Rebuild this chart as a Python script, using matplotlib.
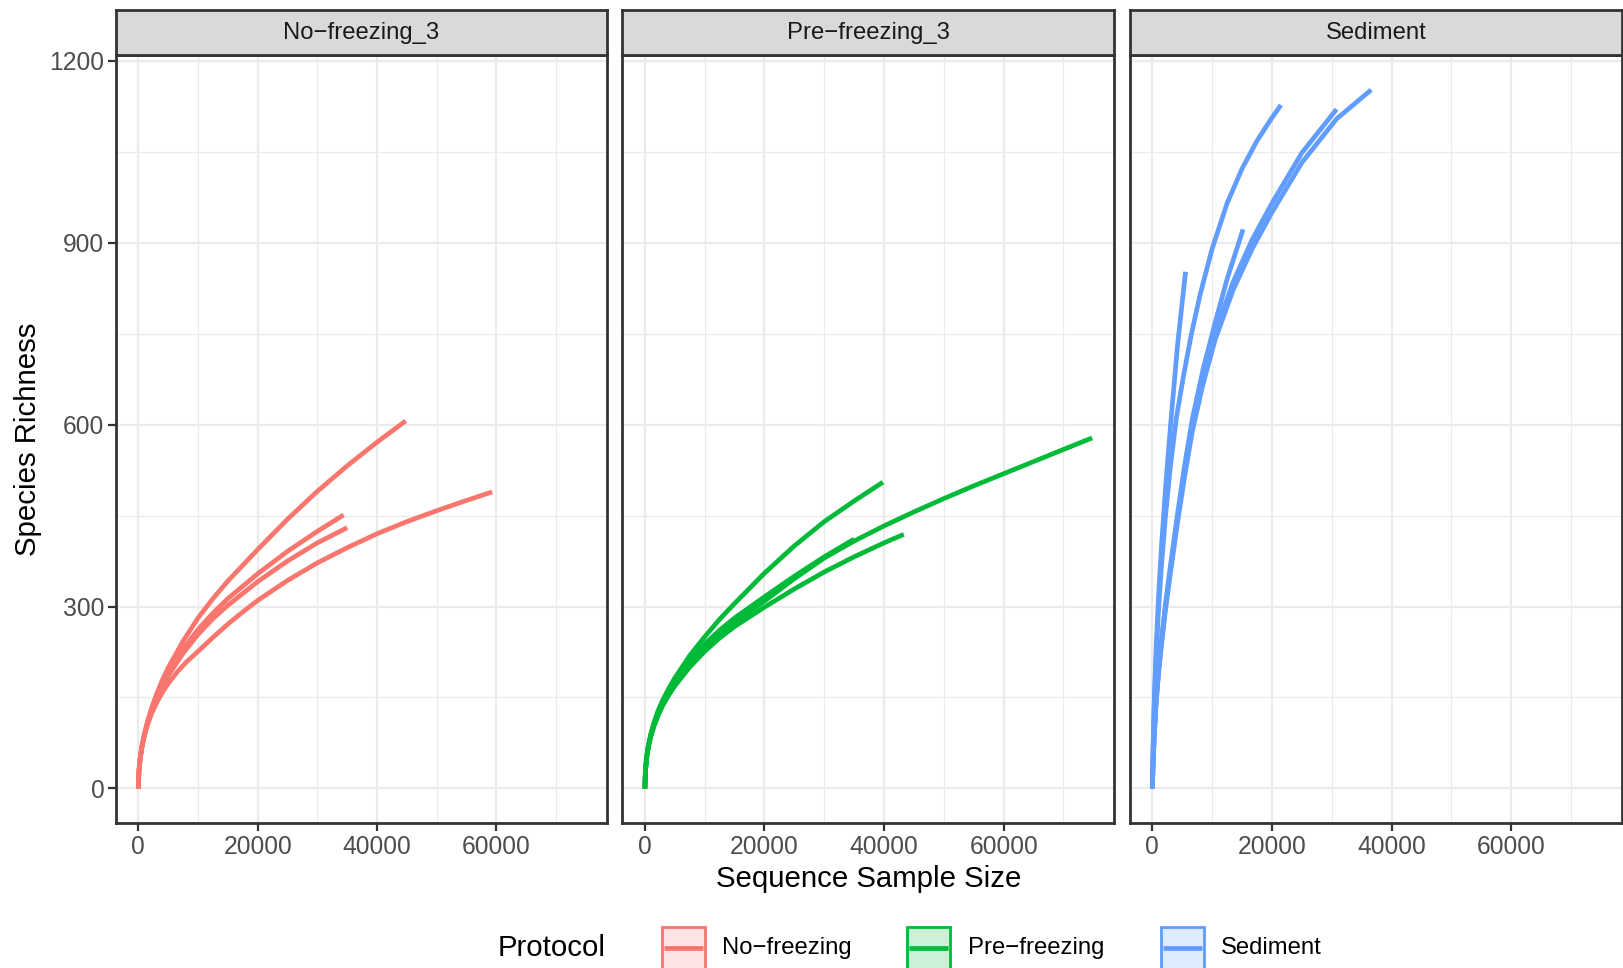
import matplotlib
matplotlib.use("Agg")
import matplotlib.pyplot as plt
from matplotlib.patches import Rectangle
from matplotlib.lines import Line2D
from matplotlib.ticker import MultipleLocator

plt.rcParams['font.family'] = ['Liberation Sans', 'DejaVu Sans']

# ---------------- data ----------------
facets = ["No\u2212freezing_3", "Pre\u2212freezing_3", "Sediment"]
protocols = ["No\u2212freezing", "Pre\u2212freezing", "Sediment"]
colors = ["#F8766D", "#00BA38", "#619CFF"]

# No-freezing curves
nf_a_x = [0, 100, 300, 600, 1000, 1500, 2200, 3000, 4000, 5000, 7500, 10000, 12500, 15000, 20000, 25000, 30000, 35000, 40000, 44800]
nf_a_y = [0, 28, 49, 69, 89, 109, 132, 154, 178, 199, 243, 281, 313, 342, 394, 444, 490, 532, 571, 606]
nf_b_x = [0, 100, 300, 600, 1000, 1500, 2200, 3000, 4000, 5000, 7500, 10000, 12500, 15000, 20000, 25000, 30000, 34400]
nf_b_y = [0, 28, 49, 69, 88, 107, 129, 150, 172, 191, 230, 262, 289, 313, 354, 391, 424, 451]
nf_c_x = [0, 100, 300, 600, 1000, 1500, 2200, 3000, 4000, 5000, 7500, 10000, 12500, 15000, 20000, 25000, 30000, 35000]
nf_c_y = [0, 28, 49, 68, 87, 106, 127, 147, 168, 186, 223, 254, 280, 302, 341, 375, 405, 430]
nf_d_x = [0, 100, 300, 600, 1000, 1500, 2200, 3000, 4000, 5000, 6500, 8000, 10000, 12500, 15000, 17500, 20000, 25000, 30000, 35000, 40000, 45000, 50000, 55000, 59300]
nf_d_y = [0, 28, 49, 68, 86, 104, 123, 140, 158, 173, 192, 208, 226, 249, 271, 291, 310, 343, 372, 397, 420, 440, 458, 475, 489]

# Pre-freezing curves
pf_a_x = [0, 100, 300, 600, 1000, 1500, 2200, 3000, 4000, 5000, 7500, 10000, 12500, 15000, 20000, 25000, 30000, 35000, 39800]
pf_a_y = [0, 30, 52, 72, 90, 108, 128, 146, 165, 182, 219, 250, 279, 305, 355, 400, 440, 474, 505]
pf_b_x = [0, 100, 300, 600, 1000, 1500, 2200, 3000, 4000, 5000, 7500, 10000, 12500, 15000, 20000, 25000, 30000, 35000, 40000, 45000, 50000, 55000, 60000, 65000, 70000, 74800]
pf_b_y = [0, 30, 51, 70, 87, 104, 122, 139, 157, 172, 204, 232, 254, 274, 309, 346, 380, 408, 433, 456, 478, 499, 519, 539, 559, 578]
pf_c_x = [0, 100, 300, 600, 1000, 1500, 2200, 3000, 4000, 5000, 7500, 10000, 12500, 15000, 20000, 25000, 30000, 35000]
pf_c_y = [0, 30, 51, 70, 88, 105, 124, 142, 160, 176, 210, 238, 261, 281, 316, 350, 382, 411]
pf_d_x = [0, 100, 300, 600, 1000, 1500, 2200, 3000, 4000, 5000, 7500, 10000, 12500, 15000, 20000, 25000, 30000, 35000, 40000, 43300]
pf_d_y = [0, 30, 51, 69, 86, 102, 120, 137, 154, 169, 200, 226, 248, 267, 299, 329, 357, 382, 405, 419]

# Sediment curves
sd_a_x = [0, 100, 300, 600, 1000, 1500, 2200, 3050, 4200, 5550]
sd_a_y = [0, 60, 140, 225, 310, 395, 495, 600, 730, 852]
sd_b_x = [0, 100, 300, 600, 1000, 1500, 2200, 3000, 4000, 5200, 6500, 8000, 10000, 12500, 15000, 17500, 20000, 21500]
sd_b_y = [0, 55, 130, 210, 290, 365, 450, 530, 610, 680, 748, 815, 890, 965, 1022, 1068, 1106, 1127]
sd_c_x = [0, 100, 300, 600, 1000, 1500, 2200, 3000, 4200, 5400, 6700, 8500, 10500, 13500, 16700, 20000, 25000, 30800]
sd_c_y = [0, 35, 85, 140, 190, 240, 300, 360, 445, 525, 600, 680, 752, 835, 905, 965, 1048, 1120]
sd_d_x = [0, 100, 300, 600, 1000, 1500, 2200, 3000, 4200, 5400, 6700, 8500, 10500, 13500, 16700, 20000, 25000, 30800, 36600]
sd_d_y = [0, 34, 83, 137, 186, 235, 295, 354, 438, 515, 590, 668, 740, 822, 890, 950, 1032, 1104, 1152]
sd_e_x = [0, 100, 300, 600, 1000, 1500, 2200, 3000, 4200, 5400, 6700, 8500, 10500, 12500, 15170]
sd_e_y = [0, 35, 86, 141, 192, 243, 305, 366, 452, 533, 610, 692, 768, 840, 922]

panel_curves = [
    [(nf_a_x, nf_a_y), (nf_b_x, nf_b_y), (nf_c_x, nf_c_y), (nf_d_x, nf_d_y)],
    [(pf_a_x, pf_a_y), (pf_b_x, pf_b_y), (pf_c_x, pf_c_y), (pf_d_x, pf_d_y)],
    [(sd_a_x, sd_a_y), (sd_b_x, sd_b_y), (sd_c_x, sd_c_y), (sd_d_x, sd_d_y), (sd_e_x, sd_e_y)],
]

x_ticks = [0, 20000, 40000, 60000]
y_ticks = [0, 300, 600, 900, 1200]

# ---------------- layout ----------------
W, H = 1624, 968
fig = plt.figure(figsize=(W / 100, H / 100), dpi=100)
fig.patch.set_facecolor("white")


def fx(px):
    return px / W


def fy(py):
    return 1 - py / H


panel_lr = [(116, 607), (622.5, 1114.5), (1130, 1622)]
p_top, p_bot = 54.9, 823.4
s_top = 10.4

all_x = [v for pc in panel_curves for cx, cy in pc for v in cx]
all_y = [v for pc in panel_curves for cx, cy in pc for v in cy]
xmin, xmax = min(all_x), max(all_x)
ymin, ymax = min(all_y), max(all_y)
xpad = 0.05 * (xmax - xmin)
ypad = 0.05 * (ymax - ymin)

dark = "#333333"
tick_col = "#4D4D4D"
grid_col = "#EBEBEB"
TICK_FS = 17.7
STRIP_FS = 17.2
TITLE_FS = 21.2

for i, (l, r) in enumerate(panel_lr):
    ax = fig.add_axes([fx(l), fy(p_bot), (r - l) / W, (p_bot - p_top) / H])
    ax.set_xlim(xmin - xpad, xmax + xpad)
    ax.set_ylim(ymin - ypad, ymax + ypad)
    ax.set_xticks(x_ticks)
    ax.set_yticks(y_ticks)
    ax.xaxis.set_minor_locator(MultipleLocator(10000))
    ax.yaxis.set_minor_locator(MultipleLocator(150))
    ax.grid(which="major", color=grid_col, lw=1.6)
    ax.grid(which="minor", color=grid_col, lw=0.9)
    ax.set_axisbelow(True)
    for sp in ax.spines.values():
        sp.set_color(dark)
        sp.set_linewidth(2.0)
    ax.tick_params(which="minor", length=0)
    ax.tick_params(which="major", length=5.8, width=1.6, color=dark,
                   labelsize=TICK_FS, labelcolor=tick_col, pad=2.6)
    if i > 0:
        ax.tick_params(axis="y", which="major", length=0, labelleft=False)
    for cx, cy in panel_curves[i]:
        ax.plot(cx, cy, color=colors[i], lw=3.4, solid_capstyle="butt",
                solid_joinstyle="round", zorder=3)

    sax = fig.add_axes([fx(l), fy(p_top), (r - l) / W, (p_top - s_top) / H])
    sax.set_facecolor("#D9D9D9")
    sax.set_xticks([])
    sax.set_yticks([])
    for sp in sax.spines.values():
        sp.set_color(dark)
        sp.set_linewidth(2.0)
    sax.text(0.5, 0.5, facets[i], ha="center", va="center",
             fontsize=STRIP_FS, color="#1A1A1A", transform=sax.transAxes)

# axis titles
fig.text(fx(869), fy(879), "Sequence Sample Size", ha="center", va="center",
         fontsize=TITLE_FS, color="black")
fig.text(fx(28), fy((p_top + p_bot) / 2), "Species Richness", ha="center",
         va="center", rotation=90, fontsize=TITLE_FS, color="black")

# legend
leg_cy = 948
fig.text(fx(498), fy(leg_cy), "Protocol", ha="left", va="center",
         fontsize=TITLE_FS, color="black")
key_left = [662, 907, 1161]
text_left = [722.5, 968, 1220.5]
key_w = 43
for k in range(3):
    x0 = key_left[k]
    rect = Rectangle((fx(x0), fy(leg_cy + key_w / 2)), key_w / W, key_w / H,
                     transform=fig.transFigure, facecolor=colors[k], alpha=0.2,
                     edgecolor="none")
    fig.add_artist(rect)
    rect2 = Rectangle((fx(x0), fy(leg_cy + key_w / 2)), key_w / W, key_w / H,
                      transform=fig.transFigure, facecolor="none",
                      edgecolor=colors[k], lw=2.0)
    fig.add_artist(rect2)
    ln = Line2D([fx(x0 + 2), fx(x0 + key_w - 2)], [fy(leg_cy), fy(leg_cy)],
                transform=fig.transFigure, color=colors[k], lw=3.4,
                solid_capstyle="butt")
    fig.add_artist(ln)
    fig.text(fx(text_left[k]), fy(leg_cy), protocols[k], ha="left",
             va="center", fontsize=STRIP_FS, color="black")

fig.savefig("out.png", dpi=100)
